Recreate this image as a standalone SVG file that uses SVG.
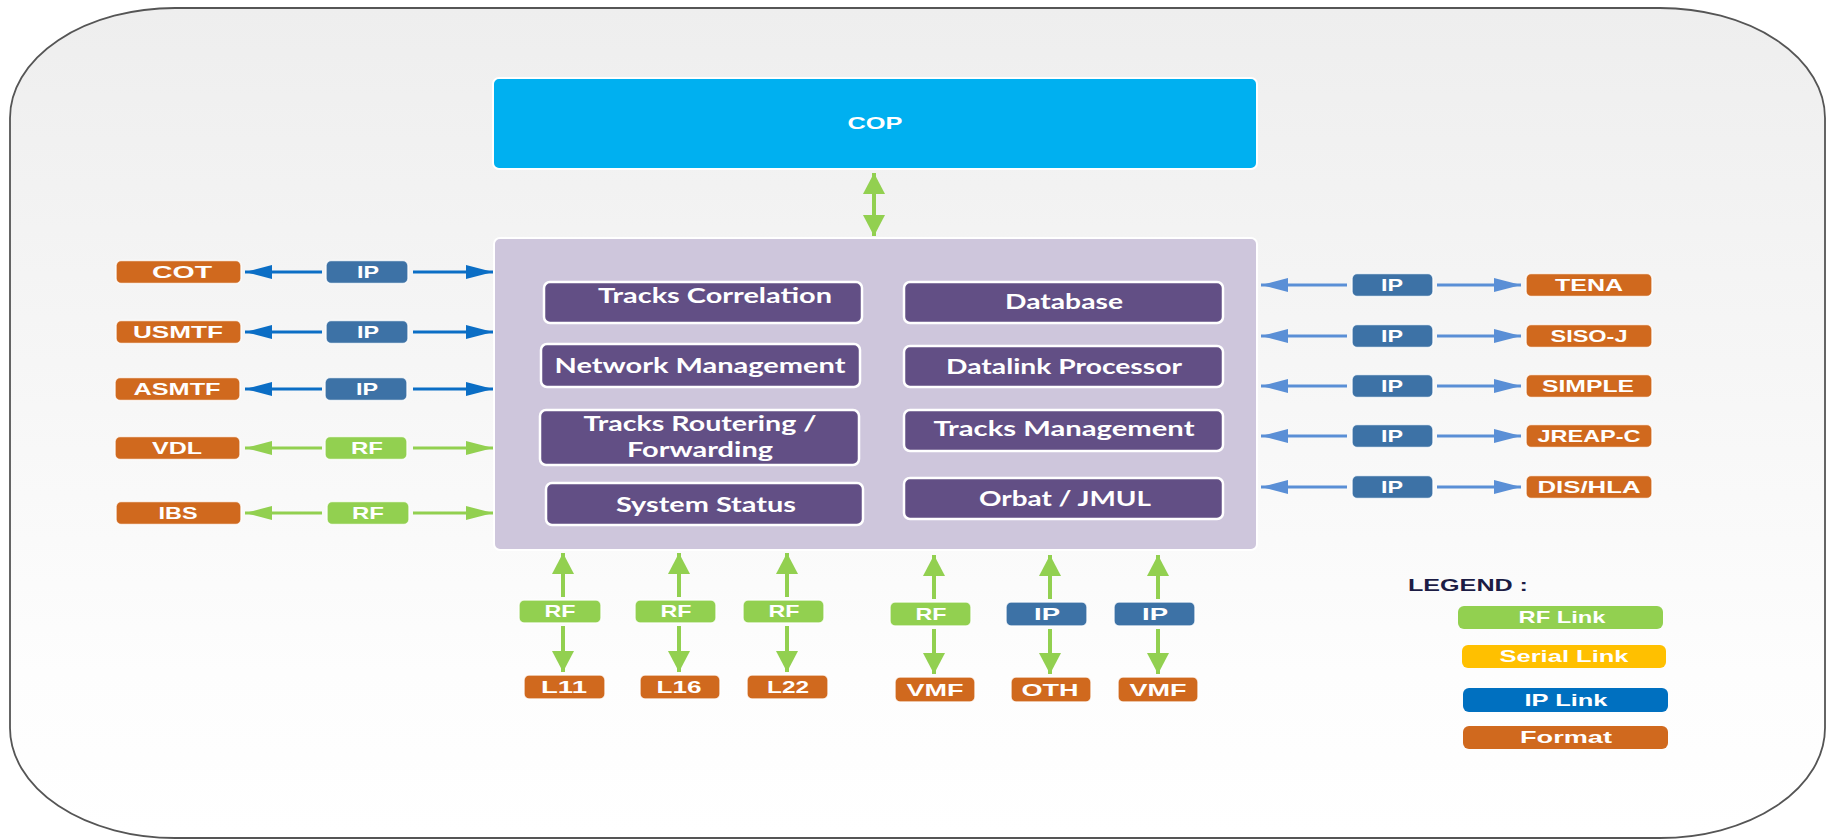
<svg xmlns="http://www.w3.org/2000/svg" width="1828" height="840" viewBox="0 0 1828 840">
<style>
.fmt{fill:#d0691e;stroke:#fff;stroke-width:1.5;stroke-opacity:.8}
.ipb{fill:#3d72a6;stroke:#fff;stroke-width:1.5;stroke-opacity:.8}
.rfb{fill:#92d050;stroke:#fff;stroke-width:1.5;stroke-opacity:.8}
.inner{fill:#624f85;stroke:#fff;stroke-width:2.5}
.lbl{font-family:"Liberation Sans",Arial,sans-serif;font-weight:bold;font-size:17px;fill:#fff;text-anchor:middle}
.il{font-family:Lato,"Open Sans",sans-serif;font-weight:bold;font-size:20px;fill:#fff;text-anchor:middle}
.lb{stroke:#0b6ec5;stroke-width:3;fill:none}
.rb{stroke:#5a8fd6;stroke-width:3;fill:none}
.gh{stroke:#92d050;stroke-width:3;fill:none}
.gv{stroke:#92d050;stroke-width:4;fill:none}
</style>
<defs>
<linearGradient id="bg" x1="0" y1="0" x2="0" y2="1">
<stop offset="0" stop-color="#eeeeee"/>
<stop offset="0.8" stop-color="#fdfdfd"/>
<stop offset="1" stop-color="#ffffff"/>
</linearGradient>
<marker id="hb" markerUnits="userSpaceOnUse" markerWidth="27" markerHeight="14" refX="27" refY="7" orient="auto-start-reverse"><path d="M0,0 L27,7 L0,14 z" fill="#0b6ec5"/></marker>
<marker id="hr" markerUnits="userSpaceOnUse" markerWidth="27" markerHeight="14" refX="27" refY="7" orient="auto-start-reverse"><path d="M0,0 L27,7 L0,14 z" fill="#5a8fd6"/></marker>
<marker id="hg" markerUnits="userSpaceOnUse" markerWidth="27" markerHeight="14" refX="27" refY="7" orient="auto-start-reverse"><path d="M0,0 L27,7 L0,14 z" fill="#92d050"/></marker>
<marker id="vg" markerUnits="userSpaceOnUse" markerWidth="21" markerHeight="22" refX="21" refY="11" orient="auto-start-reverse"><path d="M0,0 L21,11 L0,22 z" fill="#92d050"/></marker>
</defs>
<rect x="0" y="0" width="1828" height="840" fill="#fff"/>
<rect id="frame" x="10" y="8" width="1815" height="830" rx="165" ry="110" fill="url(#bg)" stroke="#555" stroke-width="1.8"/>

<g id="connectors">
<line x1="874" y1="173" x2="874" y2="236" class="gv" marker-start="url(#vg)" marker-end="url(#vg)"/>
<!-- left -->
<line x1="322" y1="272" x2="245" y2="272" class="lb" marker-end="url(#hb)"/>
<line x1="413" y1="272" x2="493" y2="272" class="lb" marker-end="url(#hb)"/>
<line x1="322" y1="332" x2="245" y2="332" class="lb" marker-end="url(#hb)"/>
<line x1="413" y1="332" x2="493" y2="332" class="lb" marker-end="url(#hb)"/>
<line x1="322" y1="389" x2="245" y2="389" class="lb" marker-end="url(#hb)"/>
<line x1="413" y1="389" x2="493" y2="389" class="lb" marker-end="url(#hb)"/>
<line x1="322" y1="448" x2="245" y2="448" class="gh" marker-end="url(#hg)"/>
<line x1="413" y1="448" x2="493" y2="448" class="gh" marker-end="url(#hg)"/>
<line x1="322" y1="513" x2="245" y2="513" class="gh" marker-end="url(#hg)"/>
<line x1="413" y1="513" x2="493" y2="513" class="gh" marker-end="url(#hg)"/>
<!-- right -->
<line x1="1347" y1="285" x2="1261" y2="285" class="rb" marker-end="url(#hr)"/>
<line x1="1437" y1="285" x2="1521" y2="285" class="rb" marker-end="url(#hr)"/>
<line x1="1347" y1="336" x2="1261" y2="336" class="rb" marker-end="url(#hr)"/>
<line x1="1437" y1="336" x2="1521" y2="336" class="rb" marker-end="url(#hr)"/>
<line x1="1347" y1="386" x2="1261" y2="386" class="rb" marker-end="url(#hr)"/>
<line x1="1437" y1="386" x2="1521" y2="386" class="rb" marker-end="url(#hr)"/>
<line x1="1347" y1="436" x2="1261" y2="436" class="rb" marker-end="url(#hr)"/>
<line x1="1437" y1="436" x2="1521" y2="436" class="rb" marker-end="url(#hr)"/>
<line x1="1347" y1="487" x2="1261" y2="487" class="rb" marker-end="url(#hr)"/>
<line x1="1437" y1="487" x2="1521" y2="487" class="rb" marker-end="url(#hr)"/>
<!-- bottom -->
<line x1="563" y1="597" x2="563" y2="553" class="gv" marker-end="url(#vg)"/>
<line x1="563" y1="626" x2="563" y2="672" class="gv" marker-end="url(#vg)"/>
<line x1="679" y1="597" x2="679" y2="553" class="gv" marker-end="url(#vg)"/>
<line x1="679" y1="626" x2="679" y2="672" class="gv" marker-end="url(#vg)"/>
<line x1="787" y1="597" x2="787" y2="553" class="gv" marker-end="url(#vg)"/>
<line x1="787" y1="626" x2="787" y2="672" class="gv" marker-end="url(#vg)"/>
<line x1="934" y1="599" x2="934" y2="555" class="gv" marker-end="url(#vg)"/>
<line x1="934" y1="629" x2="934" y2="674" class="gv" marker-end="url(#vg)"/>
<line x1="1050" y1="599" x2="1050" y2="555" class="gv" marker-end="url(#vg)"/>
<line x1="1050" y1="629" x2="1050" y2="674" class="gv" marker-end="url(#vg)"/>
<line x1="1158" y1="599" x2="1158" y2="555" class="gv" marker-end="url(#vg)"/>
<line x1="1158" y1="629" x2="1158" y2="674" class="gv" marker-end="url(#vg)"/>
</g>

<g id="cop"><rect x="493" y="78" width="764" height="91" rx="6" fill="#00b0f0" stroke="#fff" stroke-width="2"/><text class="lbl" x="875" y="129" textLength="55" lengthAdjust="spacingAndGlyphs">COP</text></g>

<g id="main"><rect x="494" y="238" width="763" height="312" rx="6" fill="#cec6dc" stroke="#fff" stroke-width="2"/></g>

<g id="tracks-correlation"><rect class="inner" x="544" y="282" width="318" height="41" rx="6"/><text class="il" x="715" y="303" textLength="234" lengthAdjust="spacingAndGlyphs">Tracks Correlation</text></g>
<g id="database"><rect class="inner" x="904" y="282" width="319" height="41" rx="6"/><text class="il" x="1064" y="309" textLength="118" lengthAdjust="spacingAndGlyphs">Database</text></g>
<g id="network-management"><rect class="inner" x="541" y="344" width="319" height="43" rx="6"/><text class="il" x="700" y="373" textLength="291" lengthAdjust="spacingAndGlyphs">Network Management</text></g>
<g id="datalink-processor"><rect class="inner" x="904" y="346" width="319" height="41" rx="6"/><text class="il" x="1064" y="374" textLength="236" lengthAdjust="spacingAndGlyphs">Datalink Processor</text></g>
<g id="tracks-routering"><rect class="inner" x="540" y="410" width="319" height="55" rx="6"/><text class="il" x="700" y="431" textLength="233" lengthAdjust="spacingAndGlyphs">Tracks Routering /</text><text class="il" x="700" y="457" textLength="146" lengthAdjust="spacingAndGlyphs">Forwarding</text></g>
<g id="tracks-management"><rect class="inner" x="904" y="410" width="319" height="41" rx="6"/><text class="il" x="1064" y="436" textLength="261" lengthAdjust="spacingAndGlyphs">Tracks Management</text></g>
<g id="system-status"><rect class="inner" x="546" y="483" width="317" height="42" rx="6"/><text class="il" x="706" y="512" textLength="180" lengthAdjust="spacingAndGlyphs">System Status</text></g>
<g id="orbat-jmul"><rect class="inner" x="904" y="478" width="319" height="41" rx="6"/><text class="il" x="1065" y="506" textLength="172" lengthAdjust="spacingAndGlyphs">Orbat / JMUL</text></g>

<!-- left nodes -->
<g id="cot"><rect class="fmt" x="116" y="260.5" width="125" height="23" rx="5"/><text class="lbl" x="182" y="278" textLength="60" lengthAdjust="spacingAndGlyphs">COT</text></g>
<g id="ip-l1"><rect class="ipb" x="326" y="260.5" width="82" height="23" rx="5"/><text class="lbl" x="368" y="278" textLength="22" lengthAdjust="spacingAndGlyphs">IP</text></g>
<g id="usmtf"><rect class="fmt" x="116" y="320.5" width="125" height="23" rx="5"/><text class="lbl" x="178" y="338" textLength="90" lengthAdjust="spacingAndGlyphs">USMTF</text></g>
<g id="ip-l2"><rect class="ipb" x="326" y="320.5" width="82" height="23" rx="5"/><text class="lbl" x="368" y="338" textLength="22" lengthAdjust="spacingAndGlyphs">IP</text></g>
<g id="asmtf"><rect class="fmt" x="115" y="377.5" width="125" height="23" rx="5"/><text class="lbl" x="177" y="395" textLength="87" lengthAdjust="spacingAndGlyphs">ASMTF</text></g>
<g id="ip-l3"><rect class="ipb" x="325" y="377.5" width="82" height="23" rx="5"/><text class="lbl" x="367" y="395" textLength="22" lengthAdjust="spacingAndGlyphs">IP</text></g>
<g id="vdl"><rect class="fmt" x="115" y="436.5" width="125" height="23" rx="5"/><text class="lbl" x="177" y="454" textLength="50" lengthAdjust="spacingAndGlyphs">VDL</text></g>
<g id="rf-l4"><rect class="rfb" x="325" y="436.5" width="82" height="23" rx="5"/><text class="lbl" x="367" y="454" textLength="32" lengthAdjust="spacingAndGlyphs">RF</text></g>
<g id="ibs"><rect class="fmt" x="116" y="501.5" width="125" height="23" rx="5"/><text class="lbl" x="178" y="519" textLength="39" lengthAdjust="spacingAndGlyphs">IBS</text></g>
<g id="rf-l5"><rect class="rfb" x="327" y="501.5" width="82" height="23" rx="5"/><text class="lbl" x="368" y="519" textLength="32" lengthAdjust="spacingAndGlyphs">RF</text></g>

<!-- right nodes -->
<g id="ip-r1"><rect class="ipb" x="1352" y="273.5" width="81" height="23" rx="5"/><text class="lbl" x="1392" y="291" textLength="22" lengthAdjust="spacingAndGlyphs">IP</text></g>
<g id="tena"><rect class="fmt" x="1526" y="273.5" width="126" height="23" rx="5"/><text class="lbl" x="1589" y="291" textLength="68" lengthAdjust="spacingAndGlyphs">TENA</text></g>
<g id="ip-r2"><rect class="ipb" x="1352" y="324.5" width="81" height="23" rx="5"/><text class="lbl" x="1392" y="342" textLength="22" lengthAdjust="spacingAndGlyphs">IP</text></g>
<g id="siso-j"><rect class="fmt" x="1526" y="324.5" width="126" height="23" rx="5"/><text class="lbl" x="1589" y="342" textLength="77" lengthAdjust="spacingAndGlyphs">SISO-J</text></g>
<g id="ip-r3"><rect class="ipb" x="1352" y="374.5" width="81" height="23" rx="5"/><text class="lbl" x="1392" y="392" textLength="22" lengthAdjust="spacingAndGlyphs">IP</text></g>
<g id="simple"><rect class="fmt" x="1526" y="374.5" width="126" height="23" rx="5"/><text class="lbl" x="1588" y="392" textLength="92" lengthAdjust="spacingAndGlyphs">SIMPLE</text></g>
<g id="ip-r4"><rect class="ipb" x="1352" y="424.5" width="81" height="23" rx="5"/><text class="lbl" x="1392" y="442" textLength="22" lengthAdjust="spacingAndGlyphs">IP</text></g>
<g id="jreap-c"><rect class="fmt" x="1526" y="424.5" width="126" height="23" rx="5"/><text class="lbl" x="1589" y="442" textLength="103" lengthAdjust="spacingAndGlyphs">JREAP-C</text></g>
<g id="ip-r5"><rect class="ipb" x="1352" y="475.5" width="81" height="23" rx="5"/><text class="lbl" x="1392" y="493" textLength="22" lengthAdjust="spacingAndGlyphs">IP</text></g>
<g id="dis-hla"><rect class="fmt" x="1526" y="475.5" width="126" height="23" rx="5"/><text class="lbl" x="1589" y="493" textLength="103" lengthAdjust="spacingAndGlyphs">DIS/HLA</text></g>

<!-- bottom nodes -->
<g id="rf-b1"><rect class="rfb" x="519" y="600" width="82" height="23" rx="5"/><text class="lbl" x="560" y="617" textLength="31" lengthAdjust="spacingAndGlyphs">RF</text></g>
<g id="l11"><rect class="fmt" x="524" y="675" width="81" height="24" rx="5"/><text class="lbl" x="564" y="693" textLength="46" lengthAdjust="spacingAndGlyphs">L11</text></g>
<g id="rf-b2"><rect class="rfb" x="635" y="600" width="81" height="23" rx="5"/><text class="lbl" x="676" y="617" textLength="31" lengthAdjust="spacingAndGlyphs">RF</text></g>
<g id="l16"><rect class="fmt" x="640" y="675" width="80" height="24" rx="5"/><text class="lbl" x="679" y="693" textLength="45" lengthAdjust="spacingAndGlyphs">L16</text></g>
<g id="rf-b3"><rect class="rfb" x="743" y="600" width="81" height="23" rx="5"/><text class="lbl" x="784" y="617" textLength="31" lengthAdjust="spacingAndGlyphs">RF</text></g>
<g id="l22"><rect class="fmt" x="747" y="675" width="81" height="24" rx="5"/><text class="lbl" x="788" y="693" textLength="42" lengthAdjust="spacingAndGlyphs">L22</text></g>
<g id="rf-b4"><rect class="rfb" x="890" y="602" width="81" height="24" rx="5"/><text class="lbl" x="931" y="620" textLength="31" lengthAdjust="spacingAndGlyphs">RF</text></g>
<g id="vmf-1"><rect class="fmt" x="895" y="677" width="80" height="25" rx="5"/><text class="lbl" x="935" y="696" textLength="57" lengthAdjust="spacingAndGlyphs">VMF</text></g>
<g id="ip-b5"><rect class="ipb" x="1006" y="602" width="81" height="24" rx="5"/><text class="lbl" x="1047" y="620" textLength="26" lengthAdjust="spacingAndGlyphs">IP</text></g>
<g id="oth"><rect class="fmt" x="1011" y="677" width="80" height="25" rx="5"/><text class="lbl" x="1050" y="696" textLength="57" lengthAdjust="spacingAndGlyphs">OTH</text></g>
<g id="ip-b6"><rect class="ipb" x="1114" y="602" width="81" height="24" rx="5"/><text class="lbl" x="1155" y="620" textLength="26" lengthAdjust="spacingAndGlyphs">IP</text></g>
<g id="vmf-2"><rect class="fmt" x="1118" y="677" width="80" height="25" rx="5"/><text class="lbl" x="1158" y="696" textLength="57" lengthAdjust="spacingAndGlyphs">VMF</text></g>

<!-- legend -->
<g id="legend">
<text x="1408" y="591" font-family="Liberation Sans, Arial, sans-serif" font-weight="bold" font-size="16" fill="#1c1c44" textLength="120" lengthAdjust="spacingAndGlyphs">LEGEND :</text>
<rect x="1458" y="606" width="205" height="23" rx="6" fill="#92d050"/><text class="lbl" x="1562" y="623" textLength="87" lengthAdjust="spacingAndGlyphs">RF Link</text>
<rect x="1462" y="645" width="204" height="23" rx="6" fill="#ffc000"/><text class="lbl" x="1564" y="662" textLength="129" lengthAdjust="spacingAndGlyphs">Serial Link</text>
<rect x="1463" y="688" width="205" height="24" rx="6" fill="#0070c0"/><text class="lbl" x="1566" y="706" textLength="83" lengthAdjust="spacingAndGlyphs">IP Link</text>
<rect x="1463" y="726" width="205" height="23" rx="6" fill="#d0691e"/><text class="lbl" x="1566" y="743" textLength="92" lengthAdjust="spacingAndGlyphs">Format</text>
</g>
</svg>
